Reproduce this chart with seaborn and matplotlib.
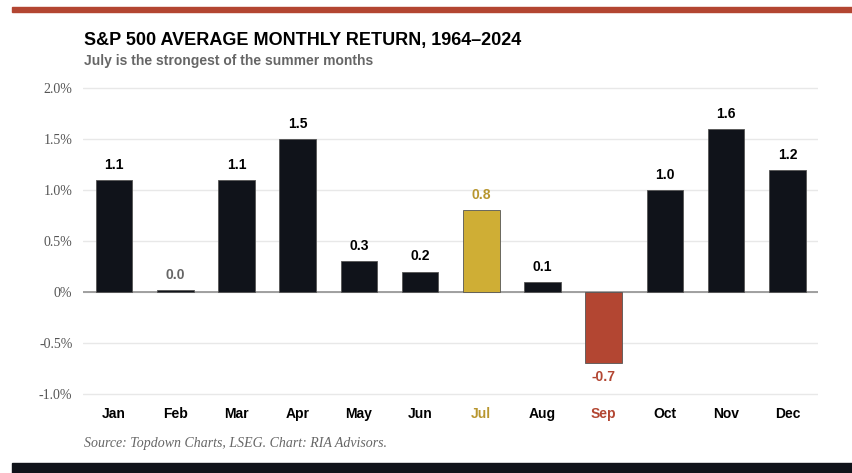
import pandas as pd
import seaborn as sns
import matplotlib.pyplot as plt
from matplotlib.ticker import FuncFormatter

months = ['Jan', 'Feb', 'Mar', 'Apr', 'May', 'Jun', 'Jul', 'Aug', 'Sep', 'Oct', 'Nov', 'Dec']
avg_return = [1.1, 0.02, 1.1, 1.5, 0.3, 0.2, 0.8, 0.1, -0.7, 1.0, 1.6, 1.2]
value_labels = ['1.1', '0.0', '1.1', '1.5', '0.3', '0.2', '0.8', '0.1', '-0.7', '1.0', '1.6', '1.2']
y_ticks = [-1.0, -0.5, 0.0, 0.5, 1.0, 1.5, 2.0]

DARK = '#10131a'
GOLD = '#cfae35'
RED = '#b34632'


def main():
    sns.set_theme(style='white')
    plt.rcParams['font.family'] = ['Liberation Sans', 'DejaVu Sans']

    df = pd.DataFrame({'month': months, 'ret': avg_return})
    palette = {m: DARK for m in months}
    palette['Jul'] = GOLD
    palette['Sep'] = RED

    fig = plt.figure(figsize=(8.52, 4.73), dpi=100)
    ax = fig.add_axes([0.098, 0.163, 0.862, 0.655])

    sns.barplot(data=df, x='month', y='ret', hue='month', palette=palette,
                legend=False, width=0.6, saturation=1, edgecolor='#555555',
                linewidth=0.6, ax=ax, zorder=3)

    ax.set_xlim(-0.5, 11.5)
    ax.set_ylim(-1.02, 2.02)
    ax.set_yticks(y_ticks)
    ax.yaxis.set_major_formatter(FuncFormatter(lambda v, p: '0%' if v == 0 else f'{v:.1f}%'))
    ax.grid(axis='y', color='#e8e8e8', linewidth=1, zorder=0)
    ax.axhline(0, color='#999999', linewidth=1.3, zorder=2)
    for s in ax.spines.values():
        s.set_visible(False)
    ax.set_xlabel('')
    ax.set_ylabel('')
    ax.tick_params(axis='both', length=0)
    ax.tick_params(axis='y', pad=8)

    for lbl in ax.get_yticklabels():
        lbl.set_family(['Liberation Serif', 'DejaVu Serif'])
        lbl.set_fontsize(10)
        lbl.set_color('#555555')

    tick_colors = {m: 'black' for m in months}
    tick_colors['Jul'] = '#b8962e'
    tick_colors['Sep'] = RED
    label_colors = dict(tick_colors)
    label_colors['Feb'] = '#666666'

    for lbl in ax.get_xticklabels():
        m = lbl.get_text()
        lbl.set_fontweight('bold')
        lbl.set_fontsize(10)
        lbl.set_color(tick_colors[m])
    ax.tick_params(axis='x', pad=8)

    for i, (m, v) in enumerate(zip(months, avg_return)):
        if v >= 0:
            ax.text(i, v + 0.08, value_labels[i], ha='center', va='bottom',
                    fontsize=10, fontweight='bold', color=label_colors[m])
        else:
            ax.text(i, v - 0.07, value_labels[i], ha='center', va='top',
                    fontsize=10, fontweight='bold', color=label_colors[m])

    # top and bottom bands
    fig.patches.append(plt.Rectangle((0.014, 0.975), 0.986, 0.011, transform=fig.transFigure,
                                     color=RED, zorder=5))
    fig.patches.append(plt.Rectangle((0.014, 0.0), 0.986, 0.021, transform=fig.transFigure,
                                     color=DARK, zorder=5))

    fig.text(0.099, 0.915, 'S&P 500 AVERAGE MONTHLY RETURN, 1964\u20132024',
             fontsize=13, fontweight='bold', color='black', va='center',
             family=['Liberation Sans Narrow', 'Liberation Sans', 'DejaVu Sans'])
    fig.text(0.099, 0.872, 'July is the strongest of the summer months',
             fontsize=10, fontweight='bold', color='#666666', va='center',
             family=['Liberation Sans Narrow', 'Liberation Sans', 'DejaVu Sans'])
    fig.text(0.099, 0.063, 'Source: Topdown Charts, LSEG. Chart: RIA Advisors.',
             fontsize=10, style='italic', color='#666666', va='center',
             family=['Liberation Serif', 'DejaVu Serif'])

    fig.savefig('out.png', dpi=100)


if __name__ == '__main__':
    main()
